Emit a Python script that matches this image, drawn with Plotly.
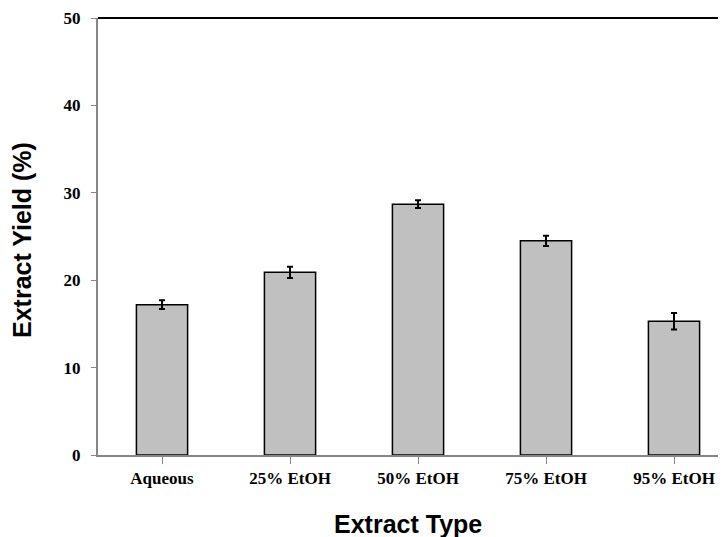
import plotly.graph_objects as go

categories = ["Aqueous", "25% EtOH", "50% EtOH", "75% EtOH", "95% EtOH"]
yields = [17.2, 20.9, 28.7, 24.5, 15.3]
errors = [0.5, 0.65, 0.45, 0.6, 0.95]
y_ticks = [0, 10, 20, 30, 40, 50]

# the page body adds an 8px offset; figure is sized to fill the rest of the window
W, H = 718, 529
L, T, B = 90, 10, 529 - 447
plot_w, plot_h = W - L, H - T - B
cat_px = 128.0

fig = go.Figure()
fig.add_trace(go.Bar(
    x=list(range(len(categories))), y=yields, width=0.4,
    marker=dict(color="#c0c0c0", line=dict(color="black", width=1.5)),
    error_y=dict(type="data", array=errors, visible=True, color="black", thickness=2, width=3),
    showlegend=False,
))

fig.update_layout(
    width=W, height=H,
    margin=dict(l=L, r=0, t=T, b=B, pad=0),
    plot_bgcolor="white", paper_bgcolor="white",
    xaxis=dict(
        range=[-0.5, -0.5 + plot_w / cat_px], tickmode="array",
        tickvals=list(range(len(categories))), ticktext=categories,
        showline=True, linecolor="#868686", linewidth=2,
        ticks="outside", tickson="boundaries", ticklen=7, tickcolor="#868686", tickwidth=1,
        tickfont=dict(family="Liberation Serif", size=17, color="black", weight="bold"),
        ticklabelstandoff=0, showgrid=False, zeroline=False,
    ),
    yaxis=dict(
        range=[0, 50], tickvals=y_ticks,
        showline=True, linecolor="#868686", linewidth=2,
        ticks="outside", ticklen=5, tickcolor="#868686", tickwidth=1,
        tickfont=dict(family="Liberation Serif", size=17, color="black", weight="bold"),
        ticklabelstandoff=7, showgrid=False, zeroline=False,
    ),
    font=dict(family="Liberation Sans", color="black"),
)

fig.add_shape(type="line", xref="paper", yref="paper", x0=0, x1=1, y0=1, y1=1,
              line=dict(color="black", width=2))

fig.add_annotation(text="<b>Extract Type</b>", xref="paper", yref="paper",
                   x=(400 - L) / plot_w, y=(H - B - 516) / plot_h,
                   xanchor="center", yanchor="middle", showarrow=False,
                   font=dict(size=25, family="Liberation Sans", color="black"))
fig.add_annotation(text="<b>Extract Yield (%)</b>", textangle=-90, xref="paper", yref="paper",
                   x=(14 - L) / plot_w, y=(H - B - 232) / plot_h,
                   xanchor="center", yanchor="middle", showarrow=False,
                   font=dict(size=25, family="Liberation Sans", color="black"))

fig.write_html("out.html")
